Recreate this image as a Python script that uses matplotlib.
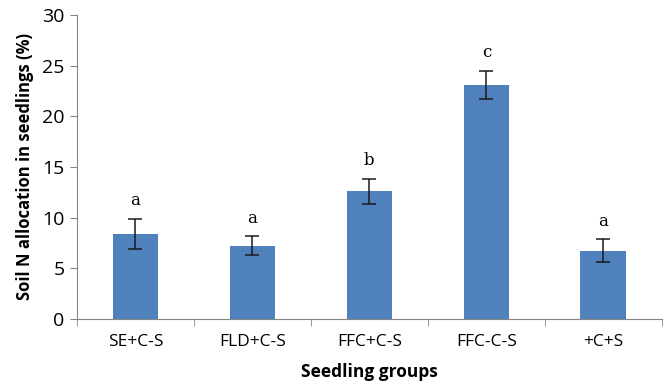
import matplotlib
matplotlib.use("Agg")
import matplotlib.pyplot as plt
import numpy as np

groups = ["SE+C-S", "FLD+C-S", "FFC+C-S", "FFC-C-S", "+C+S"]
soil_n = [8.4, 7.25, 12.6, 23.1, 6.75]
err = [1.48, 0.9, 1.25, 1.4, 1.1]
letters = ["a", "a", "b", "c", "a"]

plt.rcParams['font.family'] = ['Open Sans', 'DejaVu Sans']

fig = plt.figure(figsize=(6.66, 3.82), dpi=100)
ax = fig.add_axes([0.1156, 0.165, 0.878, 0.7957])

x = np.arange(len(groups))
ax.bar(x, soil_n, width=0.39, color="#4F81BD", zorder=2)
ax.errorbar(x, soil_n, yerr=err, fmt="none", ecolor="#1a1a1a", elinewidth=1.1,
            capsize=5, capthick=1.1, zorder=3)
for i in range(len(groups)):
    ax.text(x[i], soil_n[i] + err[i] + 1.8, letters[i], ha="center", va="center",
            fontsize=12, family="DejaVu Serif")

ax.set_xlim(-0.5, len(groups) - 0.5)
ax.set_ylim(0, 30)
ax.set_yticks(range(0, 31, 5))
ax.set_xticks(x)
ax.set_xticklabels(groups, fontsize=12.5)
ax.set_xticks(np.arange(-0.5, len(groups), 1), minor=True)
ax.tick_params(axis="x", which="major", length=0, pad=11)
ax.tick_params(axis="x", which="minor", length=5, color="#868686")
ax.tick_params(axis="y", length=5, color="#868686", labelsize=14, pad=4)

for s in ["top", "right"]:
    ax.spines[s].set_visible(False)
for s in ["left", "bottom"]:
    ax.spines[s].set_color("#868686")

ax.set_ylabel("Soil N allocation in seedlings (%)", fontsize=12, fontweight="bold",
              labelpad=6)
ax.set_xlabel("Seedling groups", fontsize=12.5, fontweight="bold", labelpad=9)

fig.savefig("out.png", dpi=100)
